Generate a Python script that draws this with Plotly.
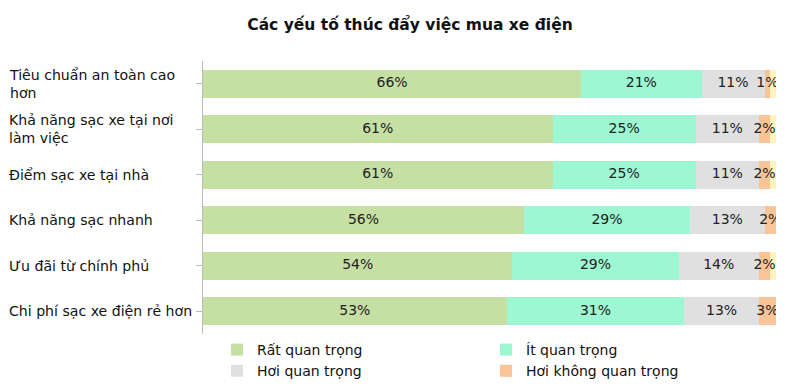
import plotly.graph_objects as go
import numpy as np

title = "Các yếu tố thúc đẩy việc mua xe điện"
categories = [
    "Tiêu chuẩn an toàn cao<br>hơn",
    "Khả năng sạc xe tại nơi<br>làm việc",
    "Điểm sạc xe tại nhà",
    "Khả năng sạc nhanh",
    "Ưu đãi từ chính phủ",
    "Chi phí sạc xe điện rẻ hơn",
]
series_names = ["Rất quan trọng", "Ít quan trọng", "Hơi quan trọng", "Hơi không quan trọng", "Không quan trọng"]
rat = [66, 61, 61, 56, 54, 53]
it = [21, 25, 25, 29, 29, 31]
hoi = [11, 11, 11, 13, 14, 13]
hoi_khong = [1, 2, 2, 2, 2, 3]
khong = [1, 1, 1, 0.5, 1, 0.5]
series = [rat, it, hoi, hoi_khong, khong]
colors = ["#c6e0a4", "#9cf7d2", "#e0e0e0", "#f9c596", "#fff4bd"]
show_in_legend = [True, True, True, True, False]
show_label = [True, True, True, True, False]

FONT = "DejaVu Sans"
fig = go.Figure()
ys = list(range(len(categories)))
for name, vals, col, sl in zip(series_names, series, colors, show_in_legend):
    fig.add_trace(go.Bar(
        y=ys, x=vals, name=name, orientation="h",
        marker=dict(color=col, line=dict(width=0)),
        showlegend=sl, hoverinfo="skip",
    ))

# labels centred on each segment
cum = np.zeros(len(categories))
for vals, sl in zip(series, show_label):
    v = np.array(vals, dtype=float)
    mid = cum + v / 2
    cum = cum + v
    if not sl:
        continue
    fig.add_trace(go.Scatter(
        y=ys, x=mid, mode="text", text=[f"{int(round(a))}%" for a in v],
        textfont=dict(family=FONT, size=14, color="#222"),
        showlegend=False, hoverinfo="skip",
    ))

L, R, T, B = 203, 24, 61, 58
plot_w = 800 - L - R
for i, c in enumerate(categories):
    fig.add_annotation(
        x=-(L - 7) / plot_w, xref="paper", y=i, yref="y",
        text=c, showarrow=False, xanchor="left", align="left",
        font=dict(family=FONT, size=14.1, color="#111"),
    )

fig.update_layout(
    width=800, height=392,
    margin=dict(l=L, r=R, t=T, b=B, autoexpand=False),
    barmode="stack", bargap=0.38,
    plot_bgcolor="white", paper_bgcolor="white",
    title=dict(text="<b>" + title + "</b>", x=410 / 800, xanchor="center",
               y=1 - 25 / 392, yanchor="middle", xref="container", yref="container",
               font=dict(family=FONT, size=15.5, color="#111")),
    xaxis=dict(range=[0, 100], visible=False),
    yaxis=dict(range=[len(categories) - 0.5, -0.5], tickvals=ys, showticklabels=False,
               showline=True, linecolor="#bbbbbb", linewidth=1,
               ticks="outside", ticklen=6, tickcolor="#bbbbbb", tickson="boundaries",
               showgrid=False, zeroline=False),
    legend=dict(orientation="h", xref="paper", yref="paper",
                x=(217 - L) / plot_w, xanchor="left",
                y=-(334 - (392 - B)) / (392 - T - B), yanchor="top", entrywidth=224,
                font=dict(family=FONT, size=14, color="#111"),
                itemclick=False, traceorder="normal", bgcolor="rgba(0,0,0,0)",
                tracegroupgap=0),
    showlegend=True,
)
fig.write_html("out.html")
